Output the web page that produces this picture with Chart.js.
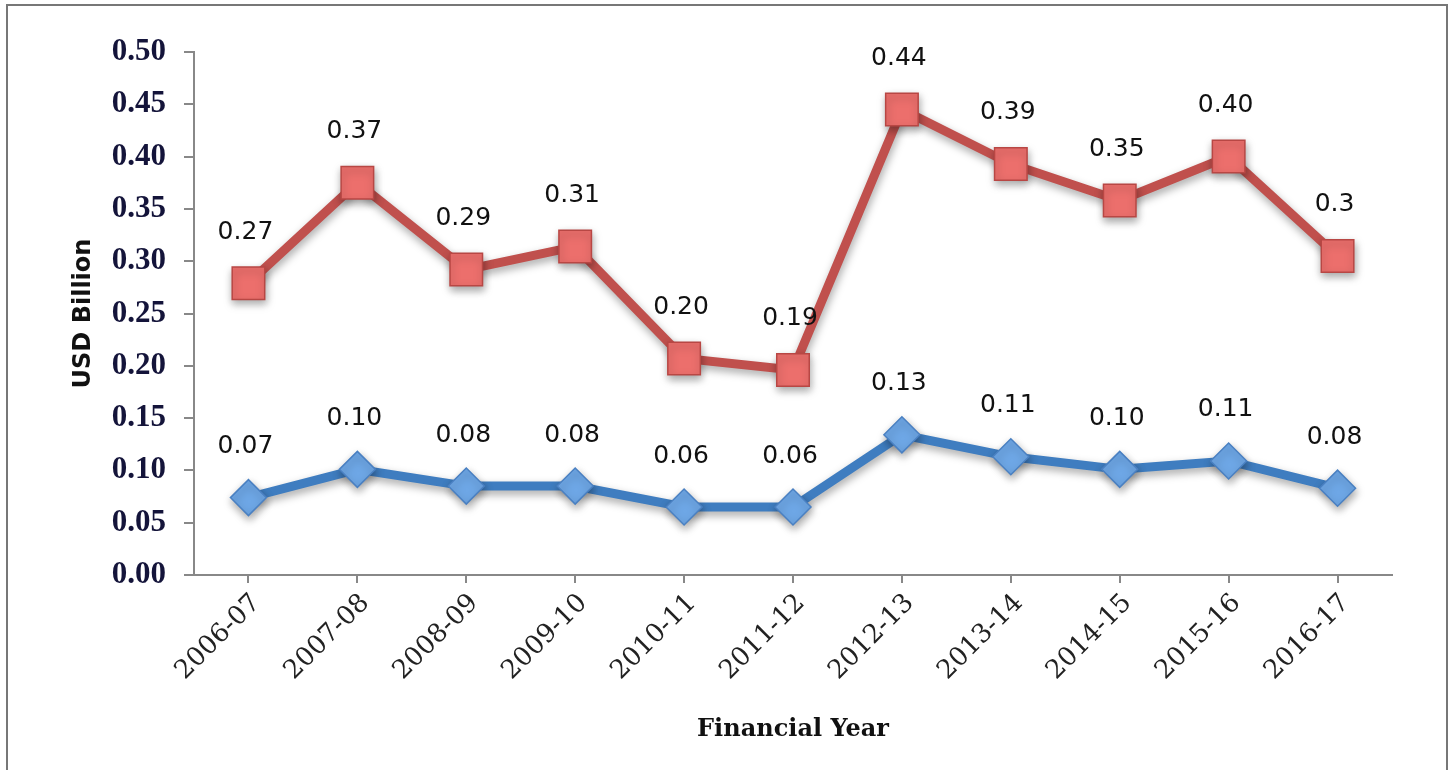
<!DOCTYPE html>
<html>
<head>
<meta charset="utf-8">
<script src="https://cdn.jsdelivr.net/npm/chart.js@4/dist/chart.umd.min.js"></script>
<style>
  body { margin: 0; background: #fff; overflow: hidden; }
  #frame { position: absolute; left: 6px; top: 4px; width: 1438px; height: 800px; border: 2px solid #777; }
  #fyChart { position: absolute; left: 0; top: 0; }
</style>
</head>
<body>
<div id="frame"></div>
<canvas id="fyChart" width="1450" height="770"></canvas>
<script>
const years = ['2006-07', '2007-08', '2008-09', '2009-10', '2010-11', '2011-12',
  '2012-13', '2013-14', '2014-15', '2015-16', '2016-17'];

// upper (red) series
const redValues = [0.279, 0.375, 0.292, 0.314, 0.207, 0.196, 0.445, 0.393, 0.358, 0.400, 0.305];
const redLabels = ['0.27', '0.37', '0.29', '0.31', '0.20', '0.19', '0.44', '0.39', '0.35', '0.40', '0.3'];

// lower (blue) series
const blueValues = [0.074, 0.101, 0.085, 0.085, 0.065, 0.065, 0.134, 0.113, 0.101, 0.109, 0.083];
const blueLabels = ['0.07', '0.10', '0.08', '0.08', '0.06', '0.06', '0.13', '0.11', '0.10', '0.11', '0.08'];

const yTicks = [0, 0.05, 0.10, 0.15, 0.20, 0.25, 0.30, 0.35, 0.40, 0.45, 0.50];

// soft drop shadow under lines and markers
const shadowPlugin = {
  id: 'shadow',
  beforeDatasetDraw(chart) {
    const ctx = chart.ctx;
    ctx.save();
    ctx.shadowColor = 'rgba(0,0,0,0.35)';
    ctx.shadowBlur = 8;
    ctx.shadowOffsetX = 1;
    ctx.shadowOffsetY = 4;
  },
  afterDatasetDraw(chart) {
    chart.ctx.restore();
  }
};

// value labels above each point
const valueLabels = {
  id: 'valueLabels',
  afterDatasetsDraw(chart) {
    const ctx = chart.ctx;
    ctx.save();
    ctx.font = '25px "DejaVu Sans"';
    ctx.fillStyle = '#111';
    ctx.textAlign = 'center';
    ctx.textBaseline = 'middle';
    chart.data.datasets.forEach((ds, i) => {
      const meta = chart.getDatasetMeta(i);
      meta.data.forEach((pt, j) => {
        ctx.fillText(ds.valueText[j], pt.x - 3, pt.y - 51);
      });
    });
    ctx.restore();
  }
};

const ctx = document.getElementById('fyChart').getContext('2d');
new Chart(ctx, {
  type: 'line',
  data: {
    labels: years,
    datasets: [{
      label: 'Upper',
      data: redValues,
      valueText: redLabels,
      borderColor: '#c0504d',
      borderWidth: 9,
      pointStyle: 'rect',
      pointRadius: 23,
      pointHoverRadius: 23,
      pointBackgroundColor: '#ec6f6c',
      pointBorderColor: '#b84744',
      pointBorderWidth: 1.5,
      tension: 0
    }, {
      label: 'Lower',
      data: blueValues,
      valueText: blueLabels,
      borderColor: '#3f7dc0',
      borderWidth: 9,
      pointStyle: 'rectRot',
      pointRadius: 18,
      pointHoverRadius: 18,
      pointBackgroundColor: '#6ea7e6',
      pointBorderColor: '#4a80c2',
      pointBorderWidth: 1.5,
      tension: 0
    }]
  },
  options: {
    responsive: false,
    devicePixelRatio: 1,
    animation: false,
    layout: { padding: { top: 52, right: 58, left: 0, bottom: 0 } },
    plugins: {
      legend: { display: false },
      tooltip: { enabled: false }
    },
    scales: {
      x: {
        offset: true,
        afterFit: (scale) => { scale.height = 195; },
        grid: {
          drawOnChartArea: false,
          color: '#888',
          lineWidth: 2,
          tickLength: 8
        },
        border: { color: '#888', width: 2 },
        ticks: {
          minRotation: 45,
          maxRotation: 45,
          padding: 5,
          labelOffset: 8,
          color: '#222',
          font: { family: '"DejaVu Serif"', size: 26 }
        },
        title: {
          display: true,
          text: 'Financial Year',
          color: '#111',
          font: { family: '"DejaVu Serif"', size: 24, weight: 'bold' },
          padding: { top: 0, bottom: 26 }
        }
      },
      y: {
        min: 0,
        max: 0.5,
        afterFit: (scale) => { scale.width = 194; },
        afterBuildTicks: (scale) => { scale.ticks = yTicks.map(v => ({ value: v })); },
        grid: {
          drawOnChartArea: false,
          color: '#888',
          lineWidth: 2,
          tickLength: 10
        },
        border: { color: '#888', width: 2 },
        ticks: {
          padding: 18,
          color: '#14143a',
          font: { family: '"Liberation Serif"', size: 31, weight: 'bold' },
          callback: (v) => Number(v).toFixed(2)
        },
        title: {
          display: true,
          text: 'USD Billion',
          color: '#111',
          font: { family: '"DejaVu Sans"', size: 24, weight: 'bold' },
          padding: { top: 69, bottom: 0 }
        }
      }
    }
  },
  plugins: [shadowPlugin, valueLabels]
});
</script>
</body>
</html>
